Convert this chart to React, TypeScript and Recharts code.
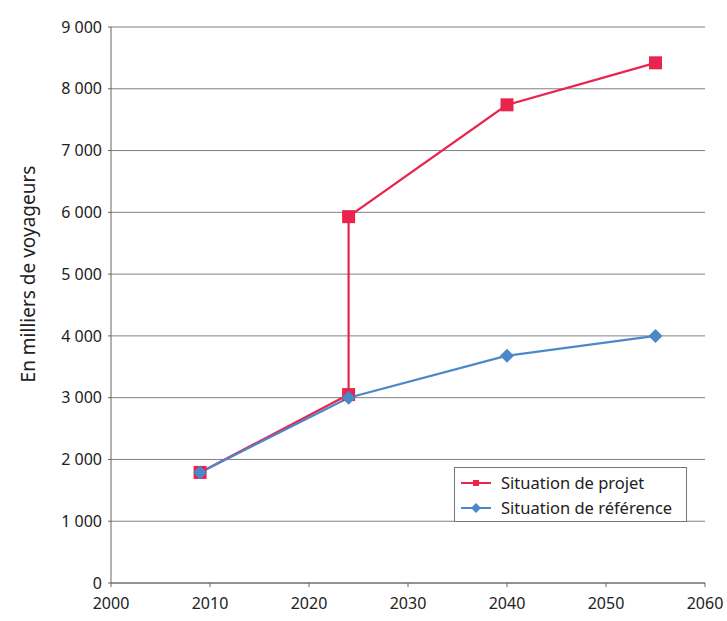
import { LineChart, Line, XAxis, YAxis, CartesianGrid } from "recharts";

const YEARS_PROJET = [2009, 2024, 2024, 2040, 2055];
const VALUES_PROJET = [1790, 3050, 5930, 7740, 8420];
const YEARS_REFERENCE = [2009, 2024, 2040, 2055];
const VALUES_REFERENCE = [1790, 3000, 3680, 4000];

const X_TICKS = [2000, 2010, 2020, 2030, 2040, 2050, 2060];
const Y_TICKS = [0, 1000, 2000, 3000, 4000, 5000, 6000, 7000, 8000, 9000];

const RED = "#E8244F";
const BLUE = "#4A88C9";
const FONT = "'Noto Sans', sans-serif";

const projet = YEARS_PROJET.map((year, i) => ({ year, value: VALUES_PROJET[i] }));
const reference = YEARS_REFERENCE.map((year, i) => ({ year, value: VALUES_REFERENCE[i] }));

const formatThousands = (v: number) =>
  v >= 1000 ? `${Math.floor(v / 1000)} ${String(v % 1000).padStart(3, "0")}` : String(v);

function SquareDot(props: any) {
  const { cx, cy } = props;
  if (cx == null || cy == null) return null;
  return <rect x={cx - 6.5} y={cy - 6.5} width={13} height={13} fill={RED} />;
}

function DiamondDot(props: any) {
  const { cx, cy } = props;
  if (cx == null || cy == null) return null;
  const r = 7;
  return (
    <polygon points={`${cx},${cy - r} ${cx + r},${cy} ${cx},${cy + r} ${cx - r},${cy}`} fill={BLUE} />
  );
}

function YLabel() {
  return (
    <text
      x={28}
      y={274}
      transform="rotate(-90 28 274)"
      textAnchor="middle"
      dominantBaseline="central"
      fill="#222"
      fontSize={19}
      fontFamily={FONT}
    >
      En milliers de voyageurs
    </text>
  );
}

function LegendBox() {
  const items = [
    { label: "Situation de projet", color: RED, shape: "square" },
    { label: "Situation de référence", color: BLUE, shape: "diamond" },
  ];
  return (
    <div
      style={{
        position: "absolute",
        left: 454,
        top: 467,
        width: 233,
        height: 55,
        boxSizing: "border-box",
        border: "1px solid #777",
        background: "#fff",
        padding: "2px 6px",
        fontFamily: FONT,
        fontSize: 16.5,
        color: "#222",
      }}
    >
      {items.map((it) => (
        <div key={it.label} style={{ display: "flex", alignItems: "center", height: 25 }}>
          <svg width={30} height={12} style={{ marginRight: 10, flexShrink: 0 }}>
            <line x1={0} y1={6} x2={30} y2={6} stroke={it.color} strokeWidth={2} />
            {it.shape === "square" ? (
              <rect x={12} y={3} width={6} height={6} fill={it.color} />
            ) : (
              <polygon points="15,1 20,6 15,11 10,6" fill={it.color} />
            )}
          </svg>
          <span style={{ whiteSpace: "nowrap" }}>{it.label}</span>
        </div>
      ))}
    </div>
  );
}

export default function App() {
  return (
    <div style={{ position: "absolute", left: 0, top: 0, width: 727, height: 621 }}>
      <LineChart
        width={727}
        height={621}
        margin={{ top: 27, right: 22, bottom: 8, left: 61 }}
        style={{ overflow: "visible" }}
      >
        <CartesianGrid horizontal vertical={false} stroke="#808080" strokeWidth={1} />
        <XAxis
          type="number"
          dataKey="year"
          domain={[2000, 2060]}
          ticks={X_TICKS}
          allowDuplicatedCategory={false}
          stroke="#666"
          height={30}
          tickSize={4}
          tick={{ fill: "#222", fontSize: 16, fontFamily: FONT }}
          tickMargin={11}
        />
        <YAxis
          type="number"
          dataKey="value"
          domain={[0, 9000]}
          ticks={Y_TICKS}
          tickFormatter={formatThousands}
          stroke="#666"
          tickSize={3}
          width={50}
          tick={{ fill: "#222", fontSize: 16, fontFamily: FONT }}
          tickMargin={6}
          label={<YLabel />}
        />
        <Line
          data={projet}
          dataKey="value"
          type="linear"
          stroke={RED}
          strokeWidth={2.2}
          dot={<SquareDot />}
          activeDot={false}
          isAnimationActive={false}
        />
        <Line
          data={reference}
          dataKey="value"
          type="linear"
          stroke={BLUE}
          strokeWidth={2.2}
          dot={<DiamondDot />}
          activeDot={false}
          isAnimationActive={false}
        />
      </LineChart>
      <LegendBox />
    </div>
  );
}
